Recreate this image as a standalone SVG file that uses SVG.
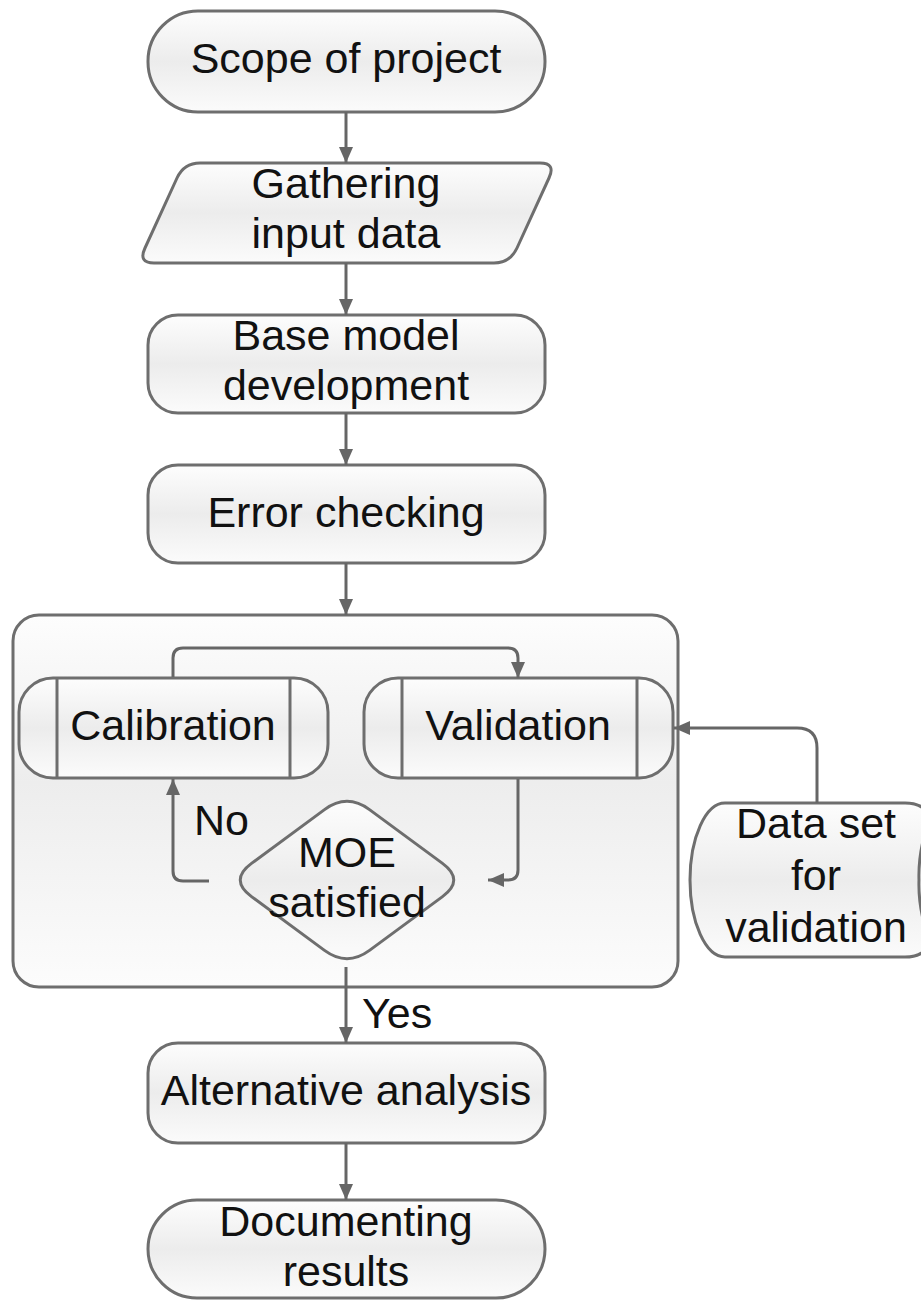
<svg xmlns="http://www.w3.org/2000/svg" width="921" height="1300" viewBox="0 0 921 1300">
<style>
.node{stroke:#6e6e6e;stroke-width:3;fill:url(#g)}
.cont{stroke:#6e6e6e;stroke-width:3;fill:url(#gc)}
.inner{stroke:#6e6e6e;stroke-width:3;fill:none}
.t{font-family:"Liberation Sans",Arial,sans-serif;font-size:43px;fill:#111;text-anchor:middle}
.tl{font-family:"Liberation Sans",Arial,sans-serif;font-size:43px;fill:#111}
.c{stroke:#666;stroke-width:3;fill:none;marker-end:url(#ah)}
</style>
<defs>
<linearGradient id="g" x1="0" y1="0" x2="0" y2="1">
<stop offset="0" stop-color="#fdfdfd"/>
<stop offset="0.5" stop-color="#ececec"/>
<stop offset="1" stop-color="#fbfbfb"/>
</linearGradient>
<linearGradient id="gc" x1="0" y1="0" x2="0" y2="1">
<stop offset="0" stop-color="#fdfdfd"/>
<stop offset="0.45" stop-color="#ededed"/>
<stop offset="1" stop-color="#fcfcfc"/>
</linearGradient>
<marker id="ah" viewBox="0 0 16 16" refX="16" refY="8" markerWidth="16" markerHeight="16" markerUnits="userSpaceOnUse" orient="auto">
<path d="M0,1 L16,8 L0,15 Z" fill="#666"/>
</marker>
</defs>

<g id="container">
<rect class="cont" x="13" y="615" width="665" height="372" rx="26"/>
</g>

<g id="scope">
<rect class="node" x="148" y="11" width="397" height="101" rx="50"/>
<text class="t" x="346" y="73">Scope of project</text>
</g>

<g id="gathering">
<path class="node" d="M200,163 L540,163 Q556,163 549,178 L517,248 Q510,263 494,263 L154,263 Q138,263 145,248 L177,178 Q184,163 200,163 Z"/>
<text class="t" x="346" y="198">Gathering</text>
<text class="t" x="346" y="248">input data</text>
</g>

<g id="base">
<rect class="node" x="148" y="315" width="397" height="98" rx="30"/>
<text class="t" x="346" y="350">Base model</text>
<text class="t" x="346" y="400">development</text>
</g>

<g id="error">
<rect class="node" x="148" y="465" width="397" height="98" rx="30"/>
<text class="t" x="346" y="527">Error checking</text>
</g>

<g id="calibration">
<rect class="node" x="19" y="678" width="309" height="100" rx="34"/>
<line class="inner" x1="57" y1="678" x2="57" y2="778"/>
<line class="inner" x1="290" y1="678" x2="290" y2="778"/>
<text class="t" x="173" y="740">Calibration</text>
</g>

<g id="validation">
<rect class="node" x="364" y="678" width="309" height="100" rx="34"/>
<line class="inner" x1="402" y1="678" x2="402" y2="778"/>
<line class="inner" x1="637" y1="678" x2="637" y2="778"/>
<text class="t" x="518" y="740">Validation</text>
</g>

<g id="moe">
<path class="node" d="M369.5,809.6 L442.5,863.4 Q465,880 442.5,896.6 L369.5,950.4 Q347,967 324.5,950.4 L251.5,896.6 Q229,880 251.5,863.4 L324.5,809.6 Q347,793 369.5,809.6 Z"/>
<text class="t" x="347" y="867">MOE</text>
<text class="t" x="347" y="917">satisfied</text>
</g>

<g id="dataset">
<path class="node" d="M725,803 L905,803 Q925,803 930,818 Q918,850 919,880 Q918,910 930,942 Q925,957 905,957 L725,957 A35,77 0 0 1 725,803 Z"/>
<text class="t" x="816" y="838">Data set</text>
<text class="t" x="816" y="890">for</text>
<text class="t" x="816" y="942">validation</text>
</g>

<g id="alternative">
<rect class="node" x="148" y="1043" width="397" height="100" rx="30"/>
<text class="t" x="346" y="1105">Alternative analysis</text>
</g>

<g id="documenting">
<rect class="node" x="148" y="1200" width="397" height="98" rx="49"/>
<text class="t" x="346" y="1236">Documenting</text>
<text class="t" x="346" y="1286">results</text>
</g>

<g id="connectors">
<path class="c" d="M346,112 L346,163"/>
<path class="c" d="M346,263 L346,315"/>
<path class="c" d="M346,413 L346,465"/>
<path class="c" d="M346,563 L346,615"/>
<path class="c" d="M173,677 L173,658 Q173,648 183,648 L508,648 Q518,648 518,658 L518,678"/>
<path class="c" d="M518,779 L518,870 Q518,880 508,880 L488,880"/>
<path class="c" d="M209,881 L183,881 Q173,881 173,871 L173,779"/>
<path class="c" d="M817,803 L817,748 Q817,728 797,728 L674,728"/>
<path class="c" d="M346,967 L346,1043"/>
<path class="c" d="M346,1143 L346,1200"/>
<text class="tl" x="194" y="835">No</text>
<text class="tl" x="362" y="1028">Yes</text>
</g>
</svg>
